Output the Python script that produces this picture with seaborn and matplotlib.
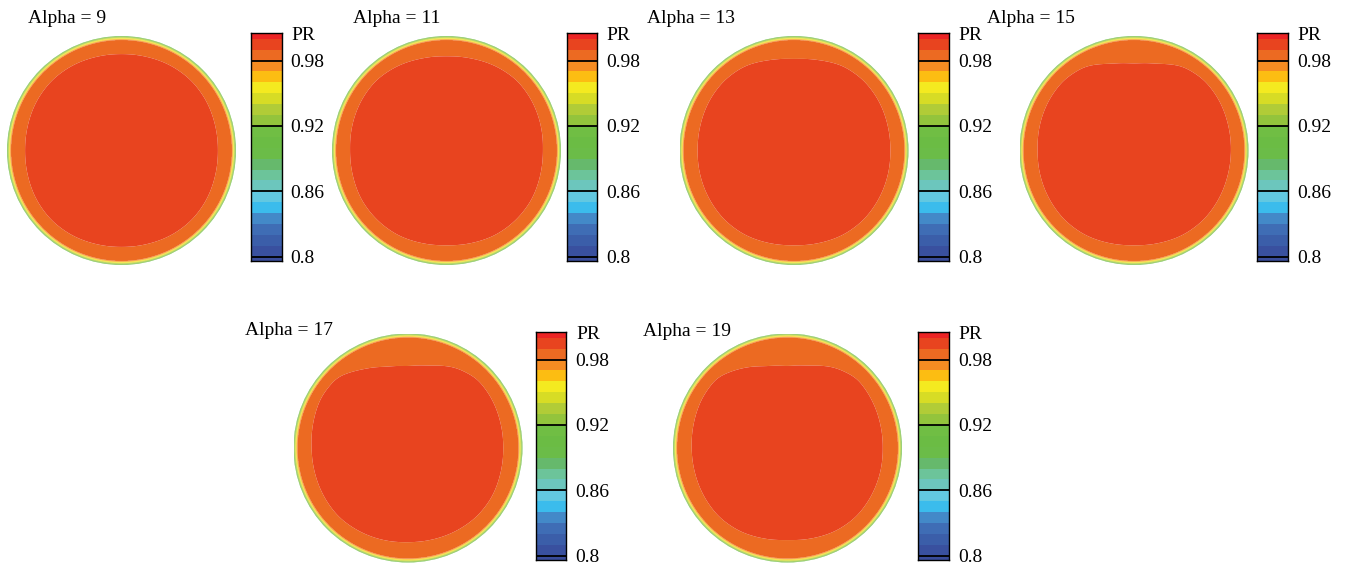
import numpy as np
import matplotlib
matplotlib.use("Agg")
import matplotlib.pyplot as plt
from matplotlib.patches import Circle
import seaborn as sns

# ---------------------------------------------------------------- data
ALPHAS = [9, 11, 13, 15, 17, 19]

# PR band edges and band colours (bottom to top)
PR_LEVELS = np.round(np.arange(0.79, 1.0101, 0.01), 2)
BAND_COLORS = [
    "#3a4c9a", "#39509f", "#3b5ea9", "#3f6db5", "#4389c8", "#3bbcec",
    "#62c8e1", "#6cc6bd", "#6cc49a", "#66b96c", "#6bbc48", "#6bbc44",
    "#70be44", "#93c43c", "#b1cc37", "#d7dc25", "#f4ea20", "#fcbd12",
    "#f68c22", "#ec6a22", "#e8441f", "#ec2424",
]
TICK_VALUES = [0.8, 0.86, 0.92, 0.98]
TICK_LABELS = ["0.8", "0.86", "0.92", "0.98"]

# edge of the high-recovery core (normalised radius) at polar stations,
# angles in degrees counter-clockwise from +x
CORE_ANGLES = np.arange(0, 360, 15)
CORE_R_A9 = [0.84, 0.845, 0.855, 0.86, 0.855, 0.845, 0.84, 0.845, 0.855, 0.86, 0.855, 0.845,
             0.84, 0.845, 0.855, 0.86, 0.855, 0.845, 0.84, 0.845, 0.855, 0.86, 0.855, 0.845]
CORE_R_A11 = [0.84, 0.85, 0.86, 0.865, 0.85, 0.83, 0.82, 0.83, 0.85, 0.865, 0.86, 0.85,
              0.84, 0.845, 0.855, 0.855, 0.85, 0.835, 0.825, 0.835, 0.85, 0.855, 0.855, 0.845]
CORE_R_A13 = [0.84, 0.845, 0.855, 0.86, 0.85, 0.815, 0.795, 0.815, 0.85, 0.86, 0.855, 0.845,
              0.84, 0.845, 0.85, 0.855, 0.85, 0.835, 0.825, 0.835, 0.85, 0.855, 0.85, 0.845]
CORE_R_A15 = [0.845, 0.85, 0.86, 0.865, 0.845, 0.78, 0.755, 0.78, 0.845, 0.865, 0.86, 0.85,
              0.84, 0.845, 0.85, 0.855, 0.85, 0.835, 0.825, 0.835, 0.85, 0.855, 0.85, 0.845]
CORE_R_A17 = [0.83, 0.835, 0.845, 0.85, 0.81, 0.74, 0.71, 0.73, 0.79, 0.87, 0.875, 0.855,
              0.84, 0.84, 0.845, 0.85, 0.84, 0.83, 0.82, 0.825, 0.835, 0.845, 0.845, 0.835]
CORE_R_A19 = [0.83, 0.835, 0.845, 0.855, 0.81, 0.74, 0.71, 0.735, 0.80, 0.865, 0.86, 0.845,
              0.835, 0.835, 0.84, 0.845, 0.835, 0.815, 0.80, 0.815, 0.835, 0.845, 0.84, 0.835]
CORE_RADII = [CORE_R_A9, CORE_R_A11, CORE_R_A13, CORE_R_A15, CORE_R_A17, CORE_R_A19]

# radial PR profile: core centre / core edge, then the wall layer
CORE_PR = [0.9965, 0.9901]
WALL_R = [0.966, 0.979, 1.0]
WALL_PR = [0.9801, 0.95, 0.905]

# ---------------------------------------------------------------- layout (pixels)
W, H = 1348, 567
DISK_R = 114.5
DISK_CENTERS = [(121.5, 150.5), (446.5, 150.5), (794.0, 150.5), (1134.0, 150.5),
                (408.0, 448.0), (787.5, 448.0)]
CBAR_BOXES = [(251.0, 33.3), (566.5, 33.3), (918.5, 33.3), (1257.3, 33.3),
              (535.7, 332.3), (918.3, 332.3)]
CBAR_W, CBAR_H = 30.7, 227.8
TITLE_POS = [(28, 23), (353, 23), (646.7, 23), (987, 23), (245, 335), (642.7, 336)]

sns.set_theme(style="white")
plt.rcParams["font.family"] = ["Liberation Serif", "DejaVu Serif"]
plt.rcParams["axes.edgecolor"] = "black"

fig = plt.figure(figsize=(W / 100, H / 100), dpi=100)
fig.patch.set_facecolor("white")


def px_axes(left, top, width, height):
    return fig.add_axes([left / W, 1 - (top + height) / H, width / W, height / H])


def core_edge(core_r):
    """Core edge radius at every degree, lightly smoothed round the loop."""
    deg = np.arange(360)
    fine = np.interp(deg, CORE_ANGLES, core_r, period=360)
    kern = np.hanning(17)
    kern /= kern.sum()
    pad = len(kern) // 2
    wrapped = np.concatenate([fine[-pad:], fine, fine[:pad]])
    return deg, np.convolve(wrapped, kern, mode="valid")


def pr_field(core_r, n=801):
    g = np.linspace(-1.01, 1.01, n)
    X, Y = np.meshgrid(g, g)
    R = np.hypot(X, Y)
    TH = np.degrees(np.arctan2(Y, X)) % 360
    deg, edge = core_edge(core_r)
    RC = np.interp(TH, deg, edge, period=360)
    core = CORE_PR[0] + (CORE_PR[1] - CORE_PR[0]) * R / RC
    ring = CORE_PR[1] + (WALL_PR[0] - CORE_PR[1]) * (R - RC) / (WALL_R[0] - RC)
    wall = np.interp(R, WALL_R, WALL_PR)
    Z = np.where(R <= RC, core, np.where(R <= WALL_R[0], ring, wall))
    return X, Y, Z


palette = sns.color_palette(BAND_COLORS)

for alpha, core_r, (cx, cy), (bl, bt), (tx, ty) in zip(
        ALPHAS, CORE_RADII, DISK_CENTERS, CBAR_BOXES, TITLE_POS):
    # contour disk
    ax = px_axes(cx - DISK_R, cy - DISK_R, 2 * DISK_R, 2 * DISK_R)
    X, Y, Z = pr_field(core_r)
    cf = ax.contourf(X, Y, Z, levels=PR_LEVELS, colors=palette, antialiased=True)
    clip = Circle((0, 0), 1.0, transform=ax.transData)
    cf.set_clip_path(clip)
    ax.set_xlim(-1, 1)
    ax.set_ylim(-1, 1)
    ax.set_axis_off()

    # legend bar
    cax = px_axes(bl, bt, CBAR_W, CBAR_H)
    for lo, hi, c in zip(PR_LEVELS[:-1], PR_LEVELS[1:], palette):
        cax.axhspan(lo, hi, color=c, lw=0)
    for v in TICK_VALUES:
        cax.axhline(v, color="black", lw=1.3)
    cax.set_xlim(0, 1)
    cax.set_ylim(0.796, 1.005)
    cax.set_xticks([])
    cax.yaxis.tick_right()
    cax.set_yticks(TICK_VALUES)
    cax.set_yticklabels(TICK_LABELS)
    cax.tick_params(axis="y", length=0, pad=6.5, labelsize=14, colors="black")
    for s in cax.spines.values():
        s.set_color("black")
        s.set_linewidth(1.0)
    cax.text(1.0 + 9.5 / CBAR_W, 1.0027, "PR", transform=cax.get_yaxis_transform(),
             ha="left", va="center", fontsize=14, color="black")

    fig.text(tx / W, 1 - ty / H, f"Alpha = {alpha}", ha="left", va="baseline",
             fontsize=14, color="black")

fig.savefig("out.png", dpi=100, facecolor="white")
